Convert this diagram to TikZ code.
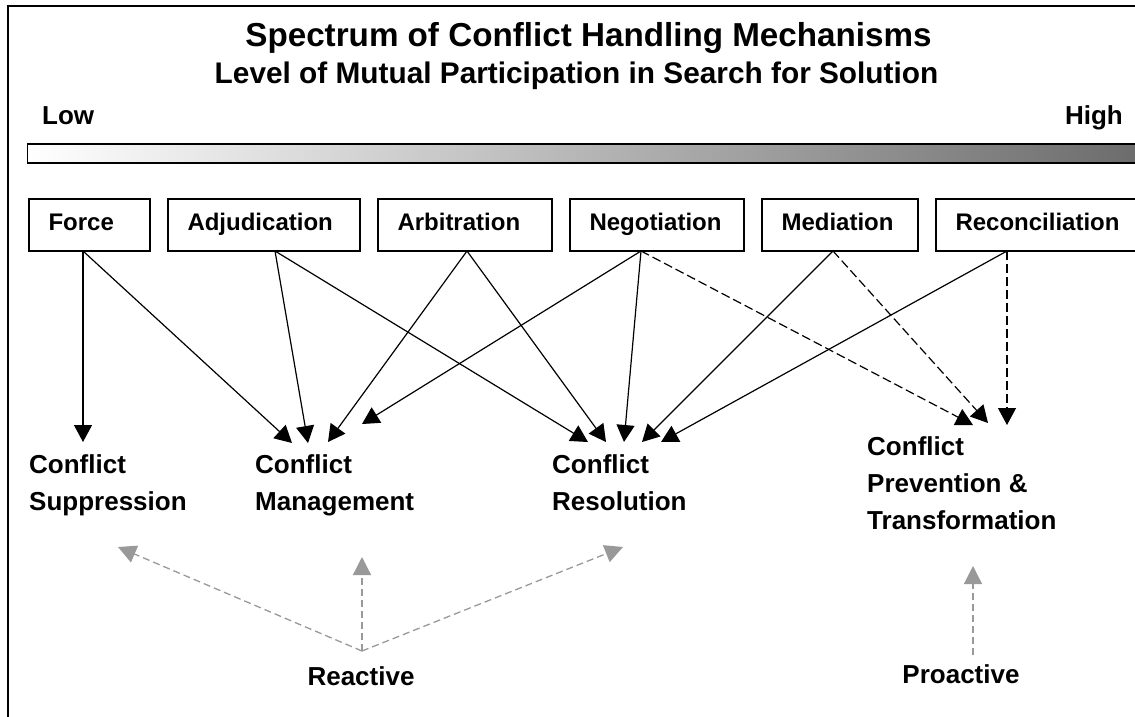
\documentclass[tikz,border=0pt]{standalone}
\usepackage{fontspec}
\setmainfont{Liberation Sans}
\usetikzlibrary{arrows.meta}
\definecolor{arrgray}{RGB}{153,153,153}
\definecolor{bardark}{RGB}{108,108,108}
\begin{document}
\begin{tikzpicture}[x=1pt,y=-1pt,
  mech/.style={draw, line width=2pt, anchor=north west, minimum height=52pt,
    inner xsep=19.5pt, inner ysep=0pt, align=left, text height=16pt, text depth=6pt,
    font=\fontsize{24}{28}\selectfont\bfseries},
  outcome/.style={anchor=north west, inner sep=0pt, align=left,
    font=\fontsize{26}{37}\selectfont\bfseries},
  lbl/.style={inner sep=0pt, font=\fontsize{26}{30}\selectfont\bfseries},
  endlbl/.style={inner sep=0pt, font=\fontsize{26}{28}\selectfont\bfseries},
  link/.style={line width=1.2pt, -{Triangle[length=17pt,width=18pt]}},
  dlink/.style={link, dash pattern=on 9pt off 4pt},
  glink/.style={arrgray, line width=1.3pt, dash pattern=on 7pt off 4pt,
    -{Triangle[length=18pt,width=18pt]}}
]
\useasboundingbox (0,0) rectangle (1135,716);
% frame
\draw[line width=2.5pt] (1160,6) -- (8,6) -- (8,740);
% titles
\node[inner sep=0pt, anchor=base, font=\fontsize{33.2}{36}\selectfont\bfseries] (title) at (588.5,46) {Spectrum of Conflict Handling Mechanisms};
\node[inner sep=0pt, anchor=base, font=\fontsize{29.8}{32}\selectfont\bfseries] (subtitle) at (576.5,83) {Level of Mutual Participation in Search for Solution};
\node[endlbl, anchor=base west] (low) at (42,124) {Low};
\node[endlbl, anchor=base east] (high) at (1123,124) {High};
% gradient bar
\shade[left color=white, right color=bardark] (27.5,144) rectangle (1140,163);
\draw[line width=1.5pt] (27.5,144) rectangle (1140,163);
% mechanism boxes
\node[mech, text width=82pt]  (force) at (28,198)  {Force};
\node[mech, text width=153pt] (adj)   at (167,198) {Adjudication};
\node[mech, text width=135pt] (arb)   at (377,198) {Arbitration};
\node[mech, text width=135pt] (neg)   at (569,198) {Negotiation};
\node[mech, text width=117pt] (med)   at (761,198) {Mediation};
\node[mech, text width=165pt] (rec)   at (935,198) {Reconciliation};
% connector origins on box bottoms
\coordinate (oF)  at (83,251);
\coordinate (oAd) at (275,251);
\coordinate (oAr) at (467,251);
\coordinate (oN)  at (641,251);
\coordinate (oMe) at (833,251);
\coordinate (oRe) at (1007,251);
% outcome labels
\node[outcome] (supp) at (29,454)  {Conflict\\Suppression};
\node[outcome] (mgmt) at (255,454) {Conflict\\Management};
\node[outcome] (reso) at (552,454) {Conflict\\Resolution};
\node[outcome] (prev) at (867,436) {Conflict\\Prevention \&\\Transformation};
% arrow tips above outcomes
\coordinate (tS)  at (83,442);
\coordinate (tM1) at (292,443);
\coordinate (tM2) at (308,443);
\coordinate (tM3) at (328,442);
\coordinate (tM4) at (362,424);
\coordinate (tR1) at (588,442);
\coordinate (tR2) at (606,442);
\coordinate (tR3) at (624,442);
\coordinate (tR4) at (642,442);
\coordinate (tR5) at (661,442);
\coordinate (tP1) at (973,425);
\coordinate (tP2) at (988,423);
\coordinate (tP3) at (1007,425);
% black connectors
\draw[link] (oF) -- (tS);
\draw[link] (oF) -- (tM1);
\draw[link] (oAd) -- (tM2);
\draw[link] (oAd) -- (tR1);
\draw[link] (oAr) -- (tM3);
\draw[link] (oAr) -- (tR2);
\draw[link] (oN) -- (tM4);
\draw[link] (oN) -- (tR3);
\draw[dlink] (oN) -- (tP1);
\draw[link] (oMe) -- (tR4);
\draw[dlink] (oMe) -- (tP2);
\draw[link] (oRe) -- (tR5);
\draw[dlink] (oRe) -- (tP3);
% reactive / proactive
\node[lbl, anchor=base] (reactive) at (361,685) {Reactive};
\node[lbl, anchor=base] (proactive) at (961,683) {Proactive};
\coordinate (oRx) at (362,651);
\coordinate (oPx) at (973,655);
\coordinate (gS) at (118,547);
\coordinate (gM) at (362,557);
\coordinate (gR) at (623,547);
\coordinate (gP) at (973,566);
\draw[glink] (oRx) -- (gS);
\draw[glink] (oRx) -- (gM);
\draw[glink] (oRx) -- (gR);
\draw[glink] (oPx) -- (gP);
\end{tikzpicture}
\end{document}
